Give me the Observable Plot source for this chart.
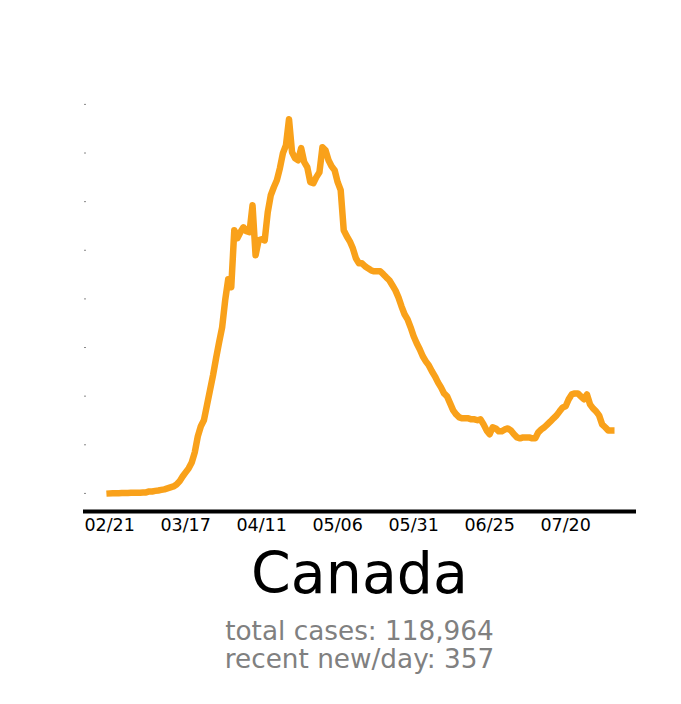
<!DOCTYPE html>
<html>
<head>
<meta charset="utf-8">
<script src="https://cdn.jsdelivr.net/npm/d3@7"></script>
<script src="https://cdn.jsdelivr.net/npm/@observablehq/plot@0.6"></script>
<style>
  html, body { margin: 0; padding: 0; background: #fff; }
  body { width: 681px; height: 704px; overflow: hidden; font-family: "DejaVu Sans", sans-serif; }
  #title { margin-left: 83px; width: 553px; text-align: center; font-size: 57px; line-height: 66px; color: #000; }
  #stats { margin-left: 83px; width: 553px; margin-top: 11px; text-align: center; font-size: 26.3px; line-height: 28px; color: #808080; }
</style>
</head>
<body>
<div id="chart"></div>
<div id="title"></div>
<div id="stats"></div>
<script>
const country = "Canada";
const totalCases = "118,964";
const recentPerDay = "357";
const startDate = "2020-02-21";
// daily new cases (smoothed), one value per day from startDate
const newCases = [
  0, 1, 1, 1, 2, 2, 2, 3, 3, 4, 4, 5, 5, 10, 10, 13, 15, 18, 21, 26,
  31, 36, 46, 62, 87, 108, 129, 159, 211, 293, 345, 376, 453, 530, 607, 694, 777, 854, 993, 1101,
  1060, 1353, 1312, 1343, 1368, 1348, 1343, 1481, 1224, 1301, 1307, 1301, 1445, 1533, 1574, 1610, 1672, 1749, 1790, 1924,
  1754, 1723, 1713, 1775, 1703, 1677, 1600, 1595, 1626, 1651, 1780, 1764, 1713, 1682, 1662, 1600, 1559, 1353, 1322, 1296,
  1260, 1209, 1183, 1183, 1168, 1157, 1147, 1142, 1142, 1142, 1127, 1111, 1096, 1070, 1044, 1008, 962, 921, 895, 854,
  808, 772, 741, 705, 679, 658, 628, 602, 571, 545, 514, 499, 463, 427, 406, 391, 386, 386, 386, 381,
  381, 376, 381, 355, 324, 304, 340, 334, 319, 319, 329, 334, 324, 304, 288, 283, 288, 288, 288, 283,
  283, 314, 329, 340, 355, 370, 386, 401, 422, 442, 448, 484, 509, 514, 514, 499, 484, 509, 458, 437,
  422, 401, 355, 340, 324, 324
];
const xTickDates = ["2020-02-21", "2020-03-17", "2020-04-11", "2020-05-06", "2020-05-31", "2020-06-25", "2020-07-20"];
const yTickValues = [0, 250, 500, 750, 1000, 1250, 1500, 1750, 2000];

const start = new Date(startDate + "T00:00:00Z");
const dayMs = 864e5;
const table = newCases.map((v, i) => ({date: new Date(+start + i * dayMs), value: v}));
const yMin = -93, yMax = 2020;

const chart = Plot.plot({
  width: 681,
  height: 540,
  marginLeft: 83,
  marginRight: 45,
  marginTop: 100,
  marginBottom: 29,
  style: {fontFamily: "DejaVu Sans", fontSize: "17.5px", background: "#fff", color: "#000"},
  x: {type: "utc", domain: [new Date(+start - 8.6 * dayMs), new Date(+start + 173.3 * dayMs)]},
  y: {domain: [yMin, yMax]},
  marks: [
    Plot.axisY({ticks: yTickValues, tickSize: 2, tickFormat: () => "", stroke: "#888", dx: 3, label: null}),
    Plot.axisX({ticks: xTickDates.map(d => new Date(d + "T00:00:00Z")), tickSize: 0, tickPadding: 7,
      tickFormat: d3.utcFormat("%m/%d"), label: null, fontSize: 17.5, fill: "#000"}),
    Plot.line(table, {x: "date", y: "value", stroke: "#f9a11a", strokeWidth: 6.5, strokeLinejoin: "round", strokeLinecap: "square"}),
    Plot.ruleY([yMin], {stroke: "#000", strokeWidth: 4})
  ]
});
document.getElementById("chart").appendChild(chart);
document.getElementById("title").textContent = country;
document.getElementById("stats").innerHTML = "total cases: " + totalCases + "<br>recent new/day: " + recentPerDay;
</script>
</body>
</html>
